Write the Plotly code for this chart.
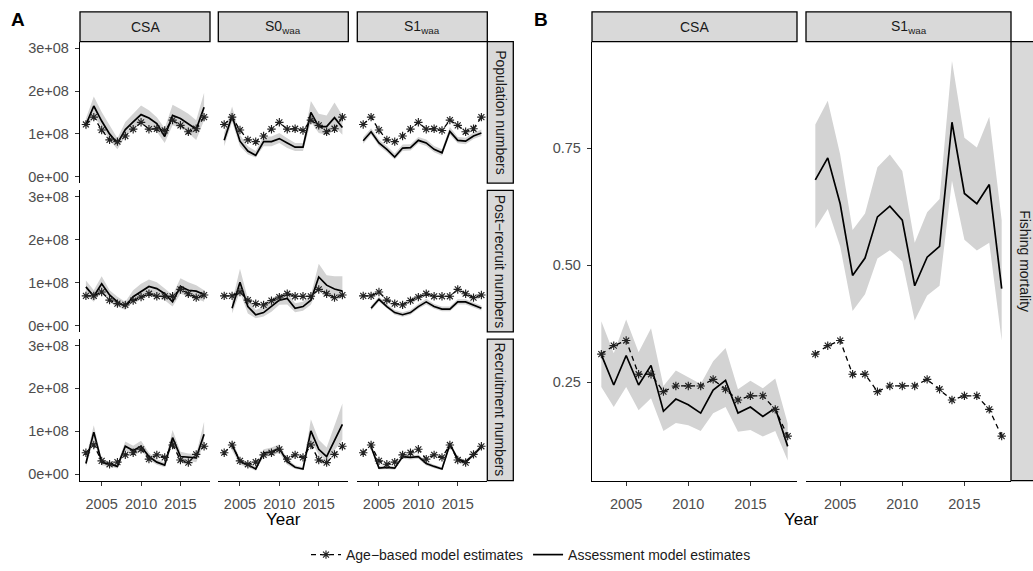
import plotly.graph_objects as go

W, H = 1033, 571
years = list(range(2003, 2019))

# ---------------- data (numbers in millions) ----------------
SCALE = 1e6
pop_age = [122, 139, 109, 86, 82, 95, 111, 127, 111, 112, 108, 132, 120, 105, 112, 139]
pop_csa = [121, 165, 130, 100, 78, 110, 128, 145, 137, 124, 94, 143, 136, 124, 111, 162]
pop_csa_hi = [136, 187, 151, 120, 90, 128, 147, 166, 155, 139, 113, 168, 158, 147, 132, 196]
pop_csa_lo = [109, 139, 117, 86, 64, 94, 109, 124, 117, 105, 79, 120, 113, 102, 86, 132]
pop_s0 = [85, 142, 83, 60, 50, 82, 82, 89, 79, 69, 69, 150, 117, 117, 138, 115]
pop_s0_hi = [102, 164, 98, 71, 60, 94, 94, 102, 90, 79, 79, 177, 147, 143, 173, 143]
pop_s0_lo = [71, 128, 71, 52, 45, 71, 71, 79, 67, 60, 60, 128, 102, 98, 117, 98]
pop_s1 = [84, 105, 79, 64, 46, 67, 68, 85, 79, 64, 56, 106, 85, 83, 95, 102]
pop_s1_hi = [92, 113, 87, 72, 54, 75, 76, 93, 87, 72, 64, 116, 93, 91, 103, 110]
pop_s1_lo = [77, 98, 72, 57, 40, 60, 61, 78, 72, 57, 49, 98, 78, 76, 88, 95]

post_age = [69, 69, 78, 59, 51, 48, 58, 66, 74, 68, 68, 68, 84, 74, 65, 71]
post_csa = [90, 68, 97, 71, 55, 45, 67, 78, 91, 86, 74, 55, 91, 82, 80, 72]
post_csa_hi = [105, 82, 115, 82, 67, 55, 82, 97, 107, 101, 86, 71, 110, 101, 94, 82]
post_csa_lo = [71, 55, 78, 55, 44, 36, 55, 63, 74, 71, 59, 44, 74, 67, 63, 55]
post_s0 = [None, 40, 101, 44, 25, 30, 44, 59, 63, 40, 44, 59, 113, 94, 85, 80]
post_s0_hi = [None, 55, 132, 63, 36, 44, 57, 72, 77, 52, 55, 71, 144, 117, 115, 115]
post_s0_lo = [None, 28, 78, 28, 17, 21, 32, 48, 49, 31, 34, 48, 90, 78, 71, 67]
post_s1 = [None, 40, 61, 44, 30, 25, 30, 44, 55, 44, 38, 38, 55, 55, 48, 40]
post_s1_hi = [None, 46, 67, 50, 36, 31, 36, 50, 62, 50, 44, 44, 61, 61, 54, 46]
post_s1_lo = [None, 35, 55, 39, 25, 20, 25, 39, 49, 39, 33, 33, 49, 49, 42, 35]

rec_age = [50, 68, 31, 23, 28, 45, 50, 58, 35, 45, 39, 68, 33, 27, 46, 65]
rec_csa = [25, 98, 27, 24, 18, 65, 55, 65, 41, 28, 21, 85, 41, 40, 38, 93]
rec_csa_hi = [38, 114, 34, 30, 24, 76, 66, 78, 50, 35, 27, 103, 52, 48, 47, 122]
rec_csa_lo = [17, 82, 21, 18, 13, 55, 46, 55, 33, 22, 16, 70, 33, 31, 28, 70]
rec_s0 = [None, 68, 29, 22, 12, 49, 52, 60, 29, 16, 12, 101, 58, 41, 79, 116]
rec_s0_hi = [None, 80, 36, 28, 17, 58, 62, 70, 36, 21, 16, 128, 80, 62, 115, 165]
rec_s0_lo = [None, 55, 22, 16, 8, 40, 43, 50, 22, 12, 9, 78, 45, 30, 55, 80]
rec_s1 = [None, 64, 14, 16, 14, 41, 39, 41, 25, 18, 12, 70, 35, 29, 45, 64]
rec_s1_hi = [None, 70, 19, 21, 18, 46, 44, 46, 30, 22, 16, 75, 40, 33, 50, 69]
rec_s1_lo = [None, 58, 11, 12, 10, 36, 34, 36, 20, 14, 9, 64, 30, 25, 40, 59]

f_age = [0.310, 0.328, 0.339, 0.267, 0.267, 0.230, 0.242, 0.242, 0.242, 0.256, 0.235, 0.212, 0.221, 0.221, 0.192, 0.135]
f_csa = [0.309, 0.244, 0.307, 0.244, 0.286, 0.188, 0.214, 0.202, 0.184, 0.233, 0.254, 0.184, 0.197, 0.177, 0.195, 0.113]
f_csa_hi = [0.380, 0.312, 0.384, 0.314, 0.365, 0.242, 0.275, 0.261, 0.246, 0.295, 0.323, 0.235, 0.253, 0.237, 0.258, 0.162]
f_csa_lo = [0.240, 0.197, 0.240, 0.190, 0.216, 0.146, 0.163, 0.158, 0.146, 0.184, 0.197, 0.144, 0.148, 0.134, 0.146, 0.083]
f_s1 = [0.682, 0.729, 0.631, 0.478, 0.515, 0.603, 0.626, 0.596, 0.456, 0.517, 0.540, 0.805, 0.653, 0.631, 0.672, 0.450]
f_s1_hi = [0.800, 0.851, 0.736, 0.575, 0.610, 0.709, 0.736, 0.701, 0.548, 0.613, 0.641, 0.936, 0.772, 0.751, 0.817, 0.596]
f_s1_lo = [0.578, 0.620, 0.540, 0.402, 0.438, 0.514, 0.532, 0.508, 0.382, 0.435, 0.456, 0.680, 0.554, 0.531, 0.548, 0.339]

colA_labels = ["CSA", "S0<sub>waa</sub>", "S1<sub>waa</sub>"]
colB_labels = ["CSA", "S1<sub>waa</sub>"]
rowA_labels = ["Population numbers", "Post\u2212recruit numbers", "Recruitment numbers"]
rowB_label = "Fishing mortality"
legend_labels = ["Age\u2212based model estimates", "Assessment model estimates"]
x_ticks = [2005, 2010, 2015]
yA_ticks = [0, 1e8, 2e8, 3e8]
yA_tick_labels = ["0e+00", "1e+08", "2e+08", "3e+08"]
yB_ticks = [0.25, 0.50, 0.75]
yB_tick_labels = ["0.25", "0.50", "0.75"]

# ---------------- layout geometry (pixels) ----------------
FONT = "Liberation Sans, Arial, sans-serif"
TICK_COLOR = "#4D4D4D"
BAND = "#D3D3D3"
STRIP = "#D9D9D9"

colsA = [(80, 210), (218.3, 348.3), (357.3, 487.3)]
rowsA = [(42.3, 185.8), (193.1, 336.6), (343.9, 487.4)]
colsB = [(592, 797), (806, 1011)]
rowB = (42.3, 487.4)


def fx(p):
    return p / W


def fy(p):
    return 1 - p / H


A_series = [
    [(pop_csa, pop_csa_lo, pop_csa_hi), (pop_s0, pop_s0_lo, pop_s0_hi), (pop_s1, pop_s1_lo, pop_s1_hi)],
    [(post_csa, post_csa_lo, post_csa_hi), (post_s0, post_s0_lo, post_s0_hi), (post_s1, post_s1_lo, post_s1_hi)],
    [(rec_csa, rec_csa_lo, rec_csa_hi), (rec_s0, rec_s0_lo, rec_s0_hi), (rec_s1, rec_s1_lo, rec_s1_hi)],
]
A_age = [pop_age, post_age, rec_age]

panels = []
for r in range(3):
    for c in range(3):
        panels.append(dict(xd=colsA[c], yd=rowsA[r], ser=A_series[r][c], age=A_age[r],
                           scale=SCALE, kind="A", left=(c == 0), bottom=(r == 2)))
for c in range(2):
    panels.append(dict(xd=colsB[c], yd=rowB, ser=[(f_csa, f_csa_lo, f_csa_hi), (f_s1, f_s1_lo, f_s1_hi)][c],
                       age=f_age, scale=1.0, kind="B", left=(c == 0), bottom=True))

fig = go.Figure()
layout = {}
legend_done = False
for k, p in enumerate(panels, start=1):
    xa, ya = ("x" if k == 1 else f"x{k}"), ("y" if k == 1 else f"y{k}")
    line, lo, hi = p["ser"]
    s = p["scale"]
    pts = [(x, l, h) for x, l, h in zip(years, lo, hi) if l is not None]
    bx = [q[0] for q in pts] + [q[0] for q in reversed(pts)]
    by = [q[2] * s for q in pts] + [q[1] * s for q in reversed(pts)]
    fig.add_trace(go.Scatter(x=bx, y=by, fill="toself", fillcolor=BAND, mode="lines",
                             line=dict(width=0, color=BAND), hoverinfo="skip",
                             showlegend=False, xaxis=xa, yaxis=ya))
    lx = [x for x, v in zip(years, line) if v is not None]
    ly = [v * s for v in line if v is not None]
    fig.add_trace(go.Scatter(x=lx, y=ly, mode="lines", line=dict(color="black", width=1.7),
                             name=legend_labels[1], legendrank=2,
                             showlegend=not legend_done, xaxis=xa, yaxis=ya))
    fig.add_trace(go.Scatter(x=years, y=[v * s for v in p["age"]], mode="lines+markers",
                             line=dict(color="black", width=1.3, dash="5px,4px"),
                             marker=dict(symbol="asterisk-open", size=7, color="#222222",
                                         line=dict(width=1.15, color="#222222")),
                             name=legend_labels[0], legendrank=1,
                             showlegend=not legend_done, xaxis=xa, yaxis=ya))
    legend_done = True

    key = "" if k == 1 else str(k)
    layout["xaxis" + key] = dict(
        domain=[fx(p["xd"][0]), fx(p["xd"][1])], anchor=ya, range=[2002.25, 2018.75],
        showgrid=False, zeroline=False, showline=p["bottom"], linecolor="black", linewidth=1.3,
        ticks="outside" if p["bottom"] else "", ticklen=4, tickwidth=1.1, tickcolor="#333333",
        tickvals=x_ticks, showticklabels=p["bottom"], ticklabelstandoff=6,
        tickfont=dict(size=14.5, color=TICK_COLOR, family=FONT), fixedrange=True)
    if p["kind"] == "A":
        yr, tv, tt = [-0.15e8, 3.15e8], yA_ticks, yA_tick_labels
    else:
        yr, tv, tt = [0.040, 0.977], yB_ticks, yB_tick_labels
    layout["yaxis" + key] = dict(
        domain=[fy(p["yd"][1]), fy(p["yd"][0])], anchor=xa, range=yr,
        showgrid=False, zeroline=False, showline=p["left"], linecolor="black", linewidth=1.3,
        ticks="outside" if p["left"] else "", ticklen=4, tickwidth=1.1, tickcolor="#333333",
        tickvals=tv, ticktext=tt, showticklabels=p["left"], ticklabelstandoff=3,
        tickfont=dict(size=14.5, color=TICK_COLOR, family=FONT), fixedrange=True)

shapes = []
annotations = []


def strip(x0, x1, y0, y1):
    shapes.append(dict(type="rect", xref="paper", yref="paper", x0=fx(x0), x1=fx(x1),
                       y0=fy(y1), y1=fy(y0), fillcolor=STRIP, line=dict(color="black", width=1.3),
                       layer="below"))


def text(x, y, t, size=14, angle=0, color="#1A1A1A", bold=False):
    annotations.append(dict(x=fx(x), y=fy(y), xref="paper", yref="paper", text=("<b>%s</b>" % t) if bold else t,
                            showarrow=False, textangle=angle, xanchor="center", yanchor="middle",
                            font=dict(size=size, color=color, family=FONT)))


for (x0, x1), lab in zip(colsA, colA_labels):
    strip(x0, x1, 12, 42.3)
    text((x0 + x1) / 2, 27, lab)
for (y0, y1), lab in zip(rowsA, rowA_labels):
    strip(487.3, 513.3, y0, y1)
    text(500.3, (y0 + y1) / 2, lab, angle=90)
for (x0, x1), lab in zip(colsB, colB_labels):
    strip(x0, x1, 12, 42.3)
    text((x0 + x1) / 2, 27, lab)
strip(1011, 1040, rowB[0], rowB[1])
text(1025, (rowB[0] + rowB[1]) / 2, rowB_label, angle=90)

text(18, 20, "A", size=19, color="black", bold=True)
text(540.5, 20, "B", size=19, color="black", bold=True)
text(283.6, 527, "Year", size=17, color="black")
text(801.5, 527, "Year", size=17, color="black")

fig.update_layout(
    width=W, height=H, margin=dict(l=0, r=0, t=0, b=0),
    paper_bgcolor="white", plot_bgcolor="white",
    font=dict(family=FONT, size=14, color="#1A1A1A"),
    showlegend=True,
    legend=dict(orientation="h", x=fx(531), xanchor="center", y=fy(563), yanchor="middle",
                font=dict(size=14, color="#1A1A1A", family=FONT), bgcolor="rgba(0,0,0,0)",
                itemwidth=30, traceorder="normal"),
    shapes=shapes, annotations=annotations, **layout)

fig.write_html("out.html")
